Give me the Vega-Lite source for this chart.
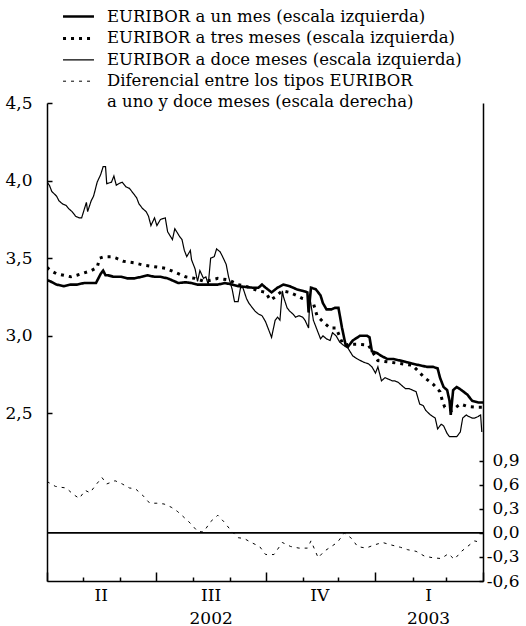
{
"$schema":"https://vega.github.io/schema/vega-lite/v6.json",
"width":436,"height":478,
"autosize":{"type":"none"},
"padding":{"left":47,"top":103,"right":43,"bottom":45},
"background":"white",
"config":{"view":{"stroke":null},"font":"DejaVu Serif",
 "axis":{"labelFont":"DejaVu Serif","labelFontSize":17,"labelColor":"black","domainColor":"black","tickColor":"black","grid":false,"title":null,"domainWidth":1.5,"tickWidth":1.5},
 "legend":{"labelFont":"DejaVu Serif","labelFontSize":16.5,"labelColor":"black"}},
"datasets":{
"tipos":[
{"f":"2002-04-01","s":"m12","v":3.99},{"f":"2002-04-03","s":"m12","v":3.97},{"f":"2002-04-05","s":"m12","v":3.93},{"f":"2002-04-09","s":"m12","v":3.90},{"f":"2002-04-11","s":"m12","v":3.87},{"f":"2002-04-14","s":"m12","v":3.85},{"f":"2002-04-17","s":"m12","v":3.84},{"f":"2002-04-19","s":"m12","v":3.82},{"f":"2002-04-22","s":"m12","v":3.80},{"f":"2002-04-25","s":"m12","v":3.77},{"f":"2002-04-28","s":"m12","v":3.76},{"f":"2002-04-30","s":"m12","v":3.76},{"f":"2002-05-04","s":"m12","v":3.86},{"f":"2002-05-05","s":"m12","v":3.80},{"f":"2002-05-08","s":"m12","v":3.87},{"f":"2002-05-10","s":"m12","v":3.90},{"f":"2002-05-13","s":"m12","v":3.99},{"f":"2002-05-16","s":"m12","v":4.04},{"f":"2002-05-18","s":"m12","v":4.09},{"f":"2002-05-20","s":"m12","v":4.09},{"f":"2002-05-21","s":"m12","v":3.98},{"f":"2002-05-25","s":"m12","v":3.99},{"f":"2002-05-27","s":"m12","v":4.03},{"f":"2002-05-29","s":"m12","v":3.97},{"f":"2002-05-31","s":"m12","v":3.98},{"f":"2002-06-03","s":"m12","v":3.99},{"f":"2002-06-06","s":"m12","v":3.96},{"f":"2002-06-09","s":"m12","v":3.95},{"f":"2002-06-11","s":"m12","v":3.93},{"f":"2002-06-15","s":"m12","v":3.89},{"f":"2002-06-17","s":"m12","v":3.85},{"f":"2002-06-20","s":"m12","v":3.82},{"f":"2002-06-23","s":"m12","v":3.80},{"f":"2002-06-25","s":"m12","v":3.77},{"f":"2002-06-27","s":"m12","v":3.71},{"f":"2002-06-30","s":"m12","v":3.76},{"f":"2002-07-02","s":"m12","v":3.71},{"f":"2002-07-05","s":"m12","v":3.75},{"f":"2002-07-09","s":"m12","v":3.76},{"f":"2002-07-11","s":"m12","v":3.67},{"f":"2002-07-15","s":"m12","v":3.62},{"f":"2002-07-17","s":"m12","v":3.69},{"f":"2002-07-21","s":"m12","v":3.64},{"f":"2002-07-23","s":"m12","v":3.62},{"f":"2002-07-25","s":"m12","v":3.55},{"f":"2002-07-27","s":"m12","v":3.51},{"f":"2002-07-30","s":"m12","v":3.55},{"f":"2002-07-31","s":"m12","v":3.49},{"f":"2002-08-03","s":"m12","v":3.43},{"f":"2002-08-05","s":"m12","v":3.35},{"f":"2002-08-07","s":"m12","v":3.42},{"f":"2002-08-10","s":"m12","v":3.37},{"f":"2002-08-12","s":"m12","v":3.38},{"f":"2002-08-14","s":"m12","v":3.33},{"f":"2002-08-16","s":"m12","v":3.50},{"f":"2002-08-19","s":"m12","v":3.51},{"f":"2002-08-21","s":"m12","v":3.56},{"f":"2002-08-24","s":"m12","v":3.54},{"f":"2002-08-26","s":"m12","v":3.51},{"f":"2002-08-29","s":"m12","v":3.46},{"f":"2002-08-31","s":"m12","v":3.38},{"f":"2002-09-03","s":"m12","v":3.30},{"f":"2002-09-05","s":"m12","v":3.22},{"f":"2002-09-08","s":"m12","v":3.22},{"f":"2002-09-10","s":"m12","v":3.31},{"f":"2002-09-12","s":"m12","v":3.31},{"f":"2002-09-15","s":"m12","v":3.24},{"f":"2002-09-17","s":"m12","v":3.21},{"f":"2002-09-20","s":"m12","v":3.18},{"f":"2002-09-22","s":"m12","v":3.16},{"f":"2002-09-25","s":"m12","v":3.14},{"f":"2002-09-28","s":"m12","v":3.13},{"f":"2002-10-01","s":"m12","v":3.09},{"f":"2002-10-03","s":"m12","v":3.05},{"f":"2002-10-06","s":"m12","v":2.99},{"f":"2002-10-09","s":"m12","v":3.10},{"f":"2002-10-11","s":"m12","v":3.12},{"f":"2002-10-13","s":"m12","v":3.10},{"f":"2002-10-15","s":"m12","v":3.29},{"f":"2002-10-16","s":"m12","v":3.25},{"f":"2002-10-19","s":"m12","v":3.18},{"f":"2002-10-21","s":"m12","v":3.16},{"f":"2002-10-24","s":"m12","v":3.14},{"f":"2002-10-26","s":"m12","v":3.12},{"f":"2002-10-29","s":"m12","v":3.13},{"f":"2002-11-01","s":"m12","v":3.12},{"f":"2002-11-03","s":"m12","v":3.10},{"f":"2002-11-06","s":"m12","v":3.05},{"f":"2002-11-07","s":"m12","v":3.25},{"f":"2002-11-10","s":"m12","v":3.10},{"f":"2002-11-13","s":"m12","v":3.04},{"f":"2002-11-16","s":"m12","v":2.98},{"f":"2002-11-18","s":"m12","v":3.00},{"f":"2002-11-21","s":"m12","v":2.98},{"f":"2002-11-24","s":"m12","v":2.97},{"f":"2002-11-26","s":"m12","v":3.02},{"f":"2002-11-29","s":"m12","v":3.00},{"f":"2002-12-02","s":"m12","v":2.96},{"f":"2002-12-05","s":"m12","v":2.94},{"f":"2002-12-09","s":"m12","v":2.92},{"f":"2002-12-13","s":"m12","v":2.87},{"f":"2002-12-17","s":"m12","v":2.85},{"f":"2002-12-22","s":"m12","v":2.83},{"f":"2002-12-26","s":"m12","v":2.82},{"f":"2002-12-29","s":"m12","v":2.80},{"f":"2003-01-01","s":"m12","v":2.76},{"f":"2003-01-03","s":"m12","v":2.80},{"f":"2003-01-06","s":"m12","v":2.71},{"f":"2003-01-09","s":"m12","v":2.73},{"f":"2003-01-12","s":"m12","v":2.72},{"f":"2003-01-15","s":"m12","v":2.71},{"f":"2003-01-17","s":"m12","v":2.71},{"f":"2003-01-20","s":"m12","v":2.70},{"f":"2003-01-23","s":"m12","v":2.68},{"f":"2003-01-26","s":"m12","v":2.66},{"f":"2003-01-29","s":"m12","v":2.66},{"f":"2003-02-01","s":"m12","v":2.65},{"f":"2003-02-04","s":"m12","v":2.64},{"f":"2003-02-07","s":"m12","v":2.56},{"f":"2003-02-10","s":"m12","v":2.55},{"f":"2003-02-12","s":"m12","v":2.52},{"f":"2003-02-16","s":"m12","v":2.49},{"f":"2003-02-18","s":"m12","v":2.48},{"f":"2003-02-20","s":"m12","v":2.47},{"f":"2003-02-22","s":"m12","v":2.40},{"f":"2003-02-25","s":"m12","v":2.43},{"f":"2003-02-27","s":"m12","v":2.42},{"f":"2003-03-02","s":"m12","v":2.37},{"f":"2003-03-04","s":"m12","v":2.35},{"f":"2003-03-07","s":"m12","v":2.35},{"f":"2003-03-10","s":"m12","v":2.35},{"f":"2003-03-13","s":"m12","v":2.38},{"f":"2003-03-15","s":"m12","v":2.47},{"f":"2003-03-18","s":"m12","v":2.49},{"f":"2003-03-20","s":"m12","v":2.48},{"f":"2003-03-23","s":"m12","v":2.47},{"f":"2003-03-25","s":"m12","v":2.47},{"f":"2003-03-28","s":"m12","v":2.48},{"f":"2003-03-30","s":"m12","v":2.49},{"f":"2003-03-31","s":"m12","v":2.38},
{"f":"2002-04-01","s":"m1","v":3.36},{"f":"2002-04-04","s":"m1","v":3.35},{"f":"2002-04-09","s":"m1","v":3.33},{"f":"2002-04-15","s":"m1","v":3.32},{"f":"2002-04-21","s":"m1","v":3.33},{"f":"2002-04-26","s":"m1","v":3.33},{"f":"2002-05-02","s":"m1","v":3.34},{"f":"2002-05-08","s":"m1","v":3.34},{"f":"2002-05-12","s":"m1","v":3.34},{"f":"2002-05-14","s":"m1","v":3.37},{"f":"2002-05-16","s":"m1","v":3.40},{"f":"2002-05-18","s":"m1","v":3.42},{"f":"2002-05-20","s":"m1","v":3.39},{"f":"2002-05-22","s":"m1","v":3.39},{"f":"2002-05-27","s":"m1","v":3.38},{"f":"2002-06-02","s":"m1","v":3.38},{"f":"2002-06-07","s":"m1","v":3.37},{"f":"2002-06-13","s":"m1","v":3.37},{"f":"2002-06-19","s":"m1","v":3.38},{"f":"2002-06-24","s":"m1","v":3.39},{"f":"2002-06-30","s":"m1","v":3.38},{"f":"2002-07-05","s":"m1","v":3.38},{"f":"2002-07-11","s":"m1","v":3.37},{"f":"2002-07-17","s":"m1","v":3.35},{"f":"2002-07-20","s":"m1","v":3.34},{"f":"2002-07-26","s":"m1","v":3.345},{"f":"2002-07-31","s":"m1","v":3.34},{"f":"2002-08-05","s":"m1","v":3.33},{"f":"2002-08-11","s":"m1","v":3.33},{"f":"2002-08-17","s":"m1","v":3.33},{"f":"2002-08-22","s":"m1","v":3.33},{"f":"2002-08-28","s":"m1","v":3.34},{"f":"2002-09-03","s":"m1","v":3.33},{"f":"2002-09-08","s":"m1","v":3.32},{"f":"2002-09-14","s":"m1","v":3.315},{"f":"2002-09-20","s":"m1","v":3.31},{"f":"2002-09-25","s":"m1","v":3.31},{"f":"2002-09-28","s":"m1","v":3.33},{"f":"2002-10-01","s":"m1","v":3.31},{"f":"2002-10-06","s":"m1","v":3.28},{"f":"2002-10-11","s":"m1","v":3.31},{"f":"2002-10-16","s":"m1","v":3.33},{"f":"2002-10-21","s":"m1","v":3.32},{"f":"2002-10-27","s":"m1","v":3.30},{"f":"2002-11-01","s":"m1","v":3.29},{"f":"2002-11-05","s":"m1","v":3.28},{"f":"2002-11-06","s":"m1","v":3.15},{"f":"2002-11-08","s":"m1","v":3.31},{"f":"2002-11-12","s":"m1","v":3.30},{"f":"2002-11-16","s":"m1","v":3.26},{"f":"2002-11-18","s":"m1","v":3.21},{"f":"2002-11-21","s":"m1","v":3.17},{"f":"2002-11-25","s":"m1","v":3.17},{"f":"2002-11-28","s":"m1","v":3.18},{"f":"2002-12-01","s":"m1","v":3.18},{"f":"2002-12-04","s":"m1","v":3.05},{"f":"2002-12-07","s":"m1","v":2.94},{"f":"2002-12-09","s":"m1","v":2.93},{"f":"2002-12-13","s":"m1","v":2.97},{"f":"2002-12-19","s":"m1","v":3.00},{"f":"2002-12-25","s":"m1","v":3.00},{"f":"2002-12-27","s":"m1","v":2.99},{"f":"2002-12-29","s":"m1","v":2.90},{"f":"2003-01-02","s":"m1","v":2.89},{"f":"2003-01-06","s":"m1","v":2.87},{"f":"2003-01-11","s":"m1","v":2.85},{"f":"2003-01-16","s":"m1","v":2.85},{"f":"2003-01-22","s":"m1","v":2.84},{"f":"2003-01-27","s":"m1","v":2.83},{"f":"2003-02-01","s":"m1","v":2.82},{"f":"2003-02-07","s":"m1","v":2.81},{"f":"2003-02-13","s":"m1","v":2.80},{"f":"2003-02-18","s":"m1","v":2.80},{"f":"2003-02-22","s":"m1","v":2.79},{"f":"2003-02-24","s":"m1","v":2.73},{"f":"2003-02-27","s":"m1","v":2.67},{"f":"2003-03-02","s":"m1","v":2.65},{"f":"2003-03-04","s":"m1","v":2.58},{"f":"2003-03-05","s":"m1","v":2.49},{"f":"2003-03-07","s":"m1","v":2.65},{"f":"2003-03-10","s":"m1","v":2.67},{"f":"2003-03-14","s":"m1","v":2.65},{"f":"2003-03-19","s":"m1","v":2.62},{"f":"2003-03-23","s":"m1","v":2.58},{"f":"2003-03-28","s":"m1","v":2.57},{"f":"2003-04-01","s":"m1","v":2.57},
{"f":"2002-04-01","s":"m3","v":3.44},{"f":"2002-04-04","s":"m3","v":3.42},{"f":"2002-04-09","s":"m3","v":3.40},{"f":"2002-04-15","s":"m3","v":3.39},{"f":"2002-04-21","s":"m3","v":3.38},{"f":"2002-04-26","s":"m3","v":3.39},{"f":"2002-05-02","s":"m3","v":3.405},{"f":"2002-05-08","s":"m3","v":3.42},{"f":"2002-05-13","s":"m3","v":3.44},{"f":"2002-05-15","s":"m3","v":3.50},{"f":"2002-05-19","s":"m3","v":3.51},{"f":"2002-05-25","s":"m3","v":3.51},{"f":"2002-05-29","s":"m3","v":3.50},{"f":"2002-06-04","s":"m3","v":3.48},{"f":"2002-06-13","s":"m3","v":3.47},{"f":"2002-06-21","s":"m3","v":3.455},{"f":"2002-06-30","s":"m3","v":3.445},{"f":"2002-07-05","s":"m3","v":3.44},{"f":"2002-07-09","s":"m3","v":3.435},{"f":"2002-07-17","s":"m3","v":3.41},{"f":"2002-07-26","s":"m3","v":3.38},{"f":"2002-08-03","s":"m3","v":3.37},{"f":"2002-08-11","s":"m3","v":3.35},{"f":"2002-08-17","s":"m3","v":3.36},{"f":"2002-08-22","s":"m3","v":3.37},{"f":"2002-08-31","s":"m3","v":3.36},{"f":"2002-09-08","s":"m3","v":3.33},{"f":"2002-09-16","s":"m3","v":3.315},{"f":"2002-09-25","s":"m3","v":3.29},{"f":"2002-10-01","s":"m3","v":3.28},{"f":"2002-10-05","s":"m3","v":3.23},{"f":"2002-10-09","s":"m3","v":3.25},{"f":"2002-10-15","s":"m3","v":3.29},{"f":"2002-10-21","s":"m3","v":3.28},{"f":"2002-10-27","s":"m3","v":3.26},{"f":"2002-11-01","s":"m3","v":3.24},{"f":"2002-11-06","s":"m3","v":3.23},{"f":"2002-11-10","s":"m3","v":3.21},{"f":"2002-11-13","s":"m3","v":3.13},{"f":"2002-11-18","s":"m3","v":3.09},{"f":"2002-11-24","s":"m3","v":3.05},{"f":"2002-11-29","s":"m3","v":3.05},{"f":"2002-12-05","s":"m3","v":2.94},{"f":"2002-12-11","s":"m3","v":2.945},{"f":"2002-12-17","s":"m3","v":2.945},{"f":"2002-12-26","s":"m3","v":2.94},{"f":"2003-01-03","s":"m3","v":2.84},{"f":"2003-01-13","s":"m3","v":2.83},{"f":"2003-01-23","s":"m3","v":2.82},{"f":"2003-02-01","s":"m3","v":2.81},{"f":"2003-02-06","s":"m3","v":2.77},{"f":"2003-02-11","s":"m3","v":2.73},{"f":"2003-02-18","s":"m3","v":2.69},{"f":"2003-02-24","s":"m3","v":2.64},{"f":"2003-02-26","s":"m3","v":2.58},{"f":"2003-02-28","s":"m3","v":2.54},{"f":"2003-03-06","s":"m3","v":2.52},{"f":"2003-03-13","s":"m3","v":2.56},{"f":"2003-03-19","s":"m3","v":2.545},{"f":"2003-03-27","s":"m3","v":2.54},{"f":"2003-04-01","s":"m3","v":2.54},
{"f":"2002-04-01","s":"dif","v":0.64},{"f":"2002-04-08","s":"dif","v":0.58},{"f":"2002-04-12","s":"dif","v":0.57},{"f":"2002-04-17","s":"dif","v":0.56},{"f":"2002-04-23","s":"dif","v":0.48},{"f":"2002-04-28","s":"dif","v":0.43},{"f":"2002-05-03","s":"dif","v":0.53},{"f":"2002-05-07","s":"dif","v":0.50},{"f":"2002-05-12","s":"dif","v":0.60},{"f":"2002-05-17","s":"dif","v":0.69},{"f":"2002-05-21","s":"dif","v":0.61},{"f":"2002-05-28","s":"dif","v":0.65},{"f":"2002-06-03","s":"dif","v":0.61},{"f":"2002-06-09","s":"dif","v":0.56},{"f":"2002-06-14","s":"dif","v":0.55},{"f":"2002-06-20","s":"dif","v":0.47},{"f":"2002-06-26","s":"dif","v":0.37},{"f":"2002-07-02","s":"dif","v":0.37},{"f":"2002-07-08","s":"dif","v":0.36},{"f":"2002-07-14","s":"dif","v":0.32},{"f":"2002-07-19","s":"dif","v":0.27},{"f":"2002-07-25","s":"dif","v":0.19},{"f":"2002-07-30","s":"dif","v":0.12},{"f":"2002-08-05","s":"dif","v":0.02},{"f":"2002-08-10","s":"dif","v":0.01},{"f":"2002-08-16","s":"dif","v":0.14},{"f":"2002-08-22","s":"dif","v":0.22},{"f":"2002-08-27","s":"dif","v":0.14},{"f":"2002-09-02","s":"dif","v":0.03},{"f":"2002-09-08","s":"dif","v":-0.06},{"f":"2002-09-13","s":"dif","v":-0.07},{"f":"2002-09-19","s":"dif","v":-0.12},{"f":"2002-09-26","s":"dif","v":-0.17},{"f":"2002-10-01","s":"dif","v":-0.27},{"f":"2002-10-08","s":"dif","v":-0.27},{"f":"2002-10-15","s":"dif","v":-0.12},{"f":"2002-10-22","s":"dif","v":-0.17},{"f":"2002-10-29","s":"dif","v":-0.19},{"f":"2002-11-05","s":"dif","v":-0.19},{"f":"2002-11-08","s":"dif","v":-0.10},{"f":"2002-11-14","s":"dif","v":-0.31},{"f":"2002-11-19","s":"dif","v":-0.23},{"f":"2002-11-25","s":"dif","v":-0.17},{"f":"2002-11-30","s":"dif","v":-0.12},{"f":"2002-12-06","s":"dif","v":0.0},{"f":"2002-12-12","s":"dif","v":-0.07},{"f":"2002-12-17","s":"dif","v":-0.17},{"f":"2002-12-24","s":"dif","v":-0.19},{"f":"2002-12-31","s":"dif","v":-0.15},{"f":"2003-01-07","s":"dif","v":-0.12},{"f":"2003-01-14","s":"dif","v":-0.15},{"f":"2003-01-22","s":"dif","v":-0.18},{"f":"2003-01-28","s":"dif","v":-0.21},{"f":"2003-02-04","s":"dif","v":-0.23},{"f":"2003-02-11","s":"dif","v":-0.29},{"f":"2003-02-18","s":"dif","v":-0.31},{"f":"2003-02-25","s":"dif","v":-0.32},{"f":"2003-03-03","s":"dif","v":-0.26},{"f":"2003-03-08","s":"dif","v":-0.33},{"f":"2003-03-14","s":"dif","v":-0.23},{"f":"2003-03-19","s":"dif","v":-0.17},{"f":"2003-03-25","s":"dif","v":-0.10},{"f":"2003-03-30","s":"dif","v":-0.12}
],
"cero":[{"c":0}]
},
"data":{"name":"tipos"},
"layer":[
 {
  "transform":[{"filter":"datum.s!='dif'"}],
  "mark":{"type":"line","color":"black","clip":true},
  "encoding":{
   "x":{"field":"f","type":"temporal",
    "scale":{"type":"utc","domain":[{"year":2002,"month":4,"date":1,"utc":true},{"year":2003,"month":4,"date":1,"utc":true}]},
    "axis":{"orient":"bottom","labels":false,"domain":true,
     "values":[{"year":2002,"month":4,"date":1,"utc":true},{"year":2002,"month":5,"date":1,"utc":true},{"year":2002,"month":6,"date":1,"utc":true},{"year":2002,"month":7,"date":1,"utc":true},{"year":2002,"month":8,"date":1,"utc":true},{"year":2002,"month":9,"date":1,"utc":true},{"year":2002,"month":10,"date":1,"utc":true},{"year":2002,"month":11,"date":1,"utc":true},{"year":2002,"month":12,"date":1,"utc":true},{"year":2003,"month":1,"date":1,"utc":true},{"year":2003,"month":2,"date":1,"utc":true},{"year":2003,"month":3,"date":1,"utc":true},{"year":2003,"month":4,"date":1,"utc":true}],
     "tickSize":{"condition":{"test":"utcmonth(datum.value)%3==0","value":-9},"value":-4}}},
   "y":{"field":"v","type":"quantitative","scale":{"domain":[1.42,4.5],"nice":false,"zero":false},
    "axis":{"orient":"left","values":[2.5,3,3.5,4,4.5],"tickSize":-5,"labelPadding":20,"labelExpr":"replace(format(datum.value,'.1f'),'.',',')"}},
   "strokeDash":{"field":"s","type":"nominal",
    "scale":{"domain":["m1","m3","m12","dif","dif2"],"range":[[1,0],[3,5],[1,0],[3,5],[1,0]]},
    "legend":{"orient":"none","legendX":21,"legendY":-97,"title":null,"direction":"vertical","symbolType":"M-1.72,0H1.72","symbolSize":324,"symbolStrokeColor":"black","labelLimit":600,"labelOffset":18,"rowPadding":2.9,"padding":0,
     "labelExpr":"datum.value=='m1'?'EURIBOR a un mes (escala izquierda)':datum.value=='m3'?'EURIBOR a tres meses (escala izquierda)':datum.value=='m12'?'EURIBOR a doce meses (escala izquierda)':datum.value=='dif'?'Diferencial entre los tipos EURIBOR':'a uno y doce meses (escala derecha)'"}},
   "strokeWidth":{"field":"s","type":"nominal",
    "scale":{"type":"ordinal","domain":["m1","m3","m12","dif","dif2"],"range":[2.6,3,1.2,1,0]},
    "legend":{"orient":"none","legendX":21,"legendY":-97,"title":null,"direction":"vertical","symbolType":"M-1.72,0H1.72","symbolSize":324,"symbolStrokeColor":"black","labelLimit":600,"labelOffset":18,"rowPadding":2.9,"padding":0,
     "labelExpr":"datum.value=='m1'?'EURIBOR a un mes (escala izquierda)':datum.value=='m3'?'EURIBOR a tres meses (escala izquierda)':datum.value=='m12'?'EURIBOR a doce meses (escala izquierda)':datum.value=='dif'?'Diferencial entre los tipos EURIBOR':'a uno y doce meses (escala derecha)'"}}
  }
 },
 {
  "layer":[
   {
    "transform":[{"filter":"datum.s=='dif'"}],
    "mark":{"type":"line","color":"black","clip":true},
    "encoding":{
     "x":{"field":"f","type":"temporal",
      "scale":{"type":"utc","domain":[{"year":2002,"month":4,"date":1,"utc":true},{"year":2003,"month":4,"date":1,"utc":true}]},
      "axis":{"orient":"bottom","domain":false,"ticks":false,"labelPadding":6,"labelLineHeight":23,"labelAlign":"center",
       "values":[{"year":2002,"month":5,"date":16,"utc":true},{"year":2002,"month":8,"date":16,"utc":true},{"year":2002,"month":11,"date":15,"utc":true},{"year":2003,"month":2,"date":14,"utc":true}],
       "labelExpr":"utcmonth(datum.value)==4?'II':utcmonth(datum.value)==7?['III','2002']:utcmonth(datum.value)==10?'IV':['I','2003']"}},
     "y":{"field":"v","type":"quantitative","scale":{"domain":[-0.6,5.36],"nice":false,"zero":false},
      "axis":{"orient":"right","values":[-0.6,-0.3,0,0.3,0.6,0.9],"tickSize":-4,"labelPadding":40,"labelAlign":"right","labelExpr":"replace(replace(format(datum.value,'.1f'),'.',','),'\u2212','-')"}},
     "strokeDash":{"field":"s","type":"nominal","scale":{"domain":["m1","m3","m12","dif","dif2"],"range":[[1,0],[3,5],[1,0],[3,5],[1,0]]}},
     "strokeWidth":{"field":"s","type":"nominal","scale":{"type":"ordinal","domain":["m1","m3","m12","dif","dif2"],"range":[2.6,3,1.2,1,0]}}
    }
   },
   {
    "data":{"name":"cero"},
    "mark":{"type":"rule","color":"black","strokeWidth":1.8},
    "encoding":{"y":{"field":"c","type":"quantitative"}}
   }
  ]
 }
],
"resolve":{"scale":{"y":"independent"},"axis":{"x":"independent"}}
}
